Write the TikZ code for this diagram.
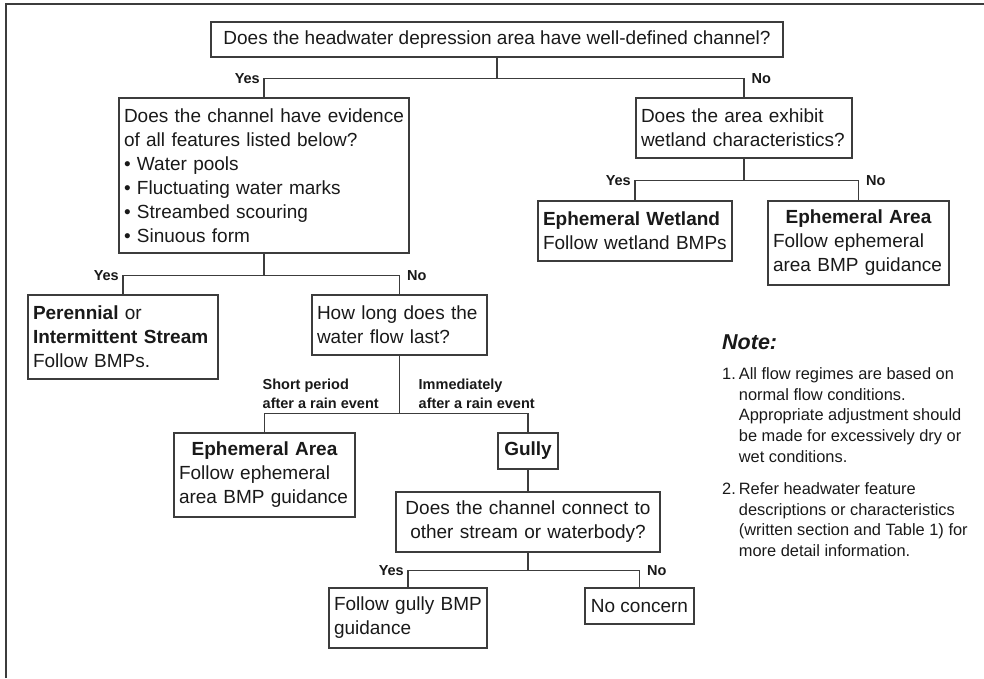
\documentclass[tikz,border=0pt]{standalone}
\usepackage{fontspec}
\setmainfont{Liberation Sans}
\usepackage{xcolor}
\definecolor{linegray}{RGB}{60,60,60}
\definecolor{textblack}{RGB}{25,25,25}
\setlength{\parindent}{0pt}
\tikzset{box/.style={draw=linegray, line width=1.2pt, inner xsep=5pt, inner ysep=0pt, align=left, text=textblack, font=\fontsize{19}{24}\selectfont},
branchlabel/.style={inner sep=0pt, text=textblack, font=\fontsize{14.5}{19}\selectfont\bfseries}}

\begin{document}
\begin{tikzpicture}[x=1pt, y=-1pt,
                yeslabel/.style={branchlabel, anchor=east, xshift=-4pt},
                nolabel/.style={branchlabel, anchor=west, xshift=7.5pt},
                link/.style={draw=linegray, line width=1.2pt},
                notetext/.style={inner sep=0pt, text=textblack, font=\fontsize{16.4}{20.6}\selectfont}
            ]
                \useasboundingbox (0,0) rectangle (984,678);
                \draw[linegray, line width=2pt] (6,678) -- (6,4) -- (984,4);

                % Boxes
                \node[box, align=center, minimum width=572pt, minimum height=35pt] (top) at (497,39.5) {Does the headwater depression area have well-defined channel?};
                \node[box, text width=280pt, minimum width=290pt, minimum height=155pt] (chan) at (264,175.5) {Does the channel have evidence\\of all features listed below?\\\textbullet{} Water pools\\\textbullet{} Fluctuating water marks\\\textbullet{} Streambed scouring\\\textbullet{} Sinuous form};
                \node[box, text width=206pt, minimum width=216pt, minimum height=60pt] (wetq) at (744,128) {Does the area exhibit\\wetland characteristics?};
                \node[box, text width=180pt, minimum width=190pt, minimum height=84pt] (stream) at (123,337) {\textbf{Perennial} or\\\textbf{Intermittent Stream}\\Follow BMPs.};
                \node[box, text width=165pt, minimum width=175pt, minimum height=60pt] (howlong) at (399.5,325) {How long does the\\water flow last?};
                \node[box, text width=171pt, minimum width=181pt, minimum height=84pt] (ephlow) at (264.5,475) {{\centering\bfseries Ephemeral Area\par}Follow ephemeral\\area BMP guidance};
                \node[box, align=center, minimum width=60pt, minimum height=36pt, font=\fontsize{19}{24}\selectfont\bfseries] (gully) at (528,451) {Gully};
                \node[box, align=center, text width=254pt, minimum width=264pt, minimum height=60pt] (connect) at (528,522) {Does the channel connect to\\other stream or waterbody?};
                \node[box, text width=148pt, minimum width=158pt, minimum height=60pt] (gullybmp) at (408,618) {Follow gully BMP\\guidance};
                \node[box, align=center, minimum width=109pt, minimum height=36pt] (noconcern) at (639.5,606) {No concern};
                \node[box, text width=184pt, minimum width=194pt, minimum height=60pt] (wetland) at (635,231) {\textbf{Ephemeral Wetland}\\Follow wetland BMPs};
                \node[box, text width=171pt, minimum width=181pt, minimum height=84pt] (ephhigh) at (858.5,243) {{\centering\bfseries Ephemeral Area\par}Follow ephemeral\\area BMP guidance};

                % Links
                \draw[link] (top.south) -- ++(0,21) coordinate (s1);
                \draw[link] (chan.north) |- (s1) -| (wetq.north);
                \draw[link] (chan.south) -- ++(0,22) coordinate (s2);
                \draw[link] (stream.north) |- (s2) -| (howlong.north);
                \draw[link] (howlong.south) -- ++(0,58) coordinate (s3);
                \draw[link] (ephlow.north) |- (s3) -| (gully.north);
                \draw[link] (gully.south) -- (connect.north);
                \draw[link] (connect.south) -- ++(0,18) coordinate (s4);
                \draw[link] (gullybmp.north) |- (s4) -| (noconcern.north);
                \draw[link] (wetq.south) -- ++(0,22) coordinate (s5);
                \draw[link] (wetland.north) |- (s5) -| (ephhigh.north);

                % Branch labels
                \node[yeslabel] (yes1) at (chan.north |- s1) {Yes};
                \node[nolabel] (no1) at (wetq.north |- s1) {No};
                \node[yeslabel] (yes2) at (stream.north |- s2) {Yes};
                \node[nolabel] (no2) at (howlong.north |- s2) {No};
                \node[branchlabel, align=left, anchor=south west, xshift=-2pt, yshift=5pt] (short) at (ephlow.north |- s3) {Short period\\after a rain event};
                \node[branchlabel, align=left, anchor=south west, xshift=19pt, yshift=5pt] (immediate) at (s3) {Immediately\\after a rain event};
                \node[yeslabel] (yes4) at (gullybmp.north |- s4) {Yes};
                \node[nolabel] (no4) at (noconcern.north |- s4) {No};
                \node[yeslabel] (yes5) at (wetland.north |- s5) {Yes};
                \node[nolabel] (no5) at (ephhigh.north |- s5) {No};

                % Note
                \node[inner sep=0pt, anchor=west, text=textblack, font=\fontsize{21.5}{26}\selectfont\bfseries\itshape] (notetitle) at (722,342) {Note:};
                \node[notetext, anchor=north west] (notebody) at (722,365) {%
                    \begin{tabular}{@{}l@{\hspace{3pt}}l@{}}
                    1. & All flow regimes are based on\\
                       & normal flow conditions.\\
                       & Appropriate adjustment should\\
                       & be made for excessively dry or\\
                       & wet conditions.\\[12pt]
                    2. & Refer headwater feature\\
                       & descriptions or characteristics\\
                       & (written section and Table 1) for\\
                       & more detail information.
                    \end{tabular}};
            \end{tikzpicture}
\end{document}
